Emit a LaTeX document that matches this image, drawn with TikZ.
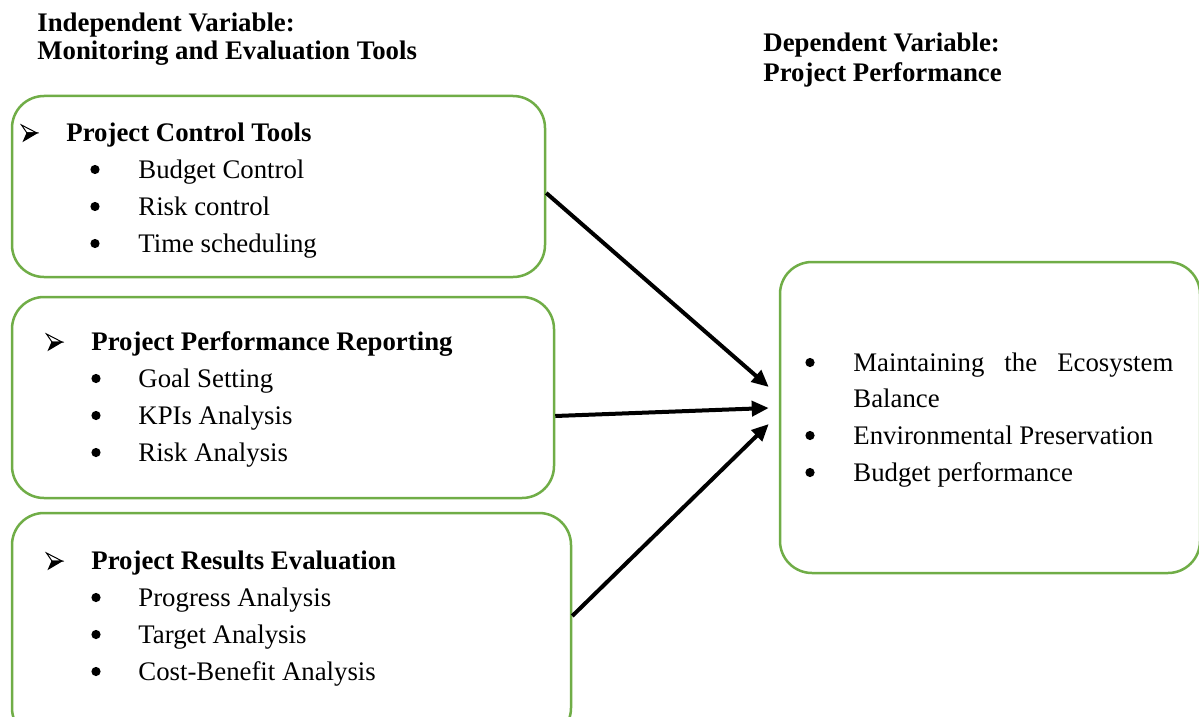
\documentclass[tikz,border=0pt]{standalone}
\usepackage{fontspec}
\setmainfont{Liberation Serif}
\usetikzlibrary{arrows.meta,fit,calc}
\definecolor{boxgreen}{HTML}{70AD47}
\begin{document}
\begin{tikzpicture}[x=0.5pt,y=-0.5pt,
  box/.style={draw=boxgreen,line width=1.25pt,rounded corners=16pt,inner sep=0pt},
  txt/.style={anchor=base west,inner sep=0pt,font=\fontsize{13.4}{16}\selectfont},
  hd/.style={txt,font=\fontsize{13.4}{16}\selectfont\bfseries},
  bul/.style={circle,fill=black,inner sep=0pt,minimum size=4.6pt},
  arr/.style={draw=black,line width=2pt,-{Triangle[length=8.5pt,width=7.5pt]}},
  ptrpic/.pic={
    \draw[line width=0.5pt,line join=miter,fill=white] (-7.5,-8) -- (8,0) -- (-2,0) -- cycle;
    \fill[black] (-2,0) -- (8,0) -- (-5.5,8) -- cycle;
    \draw[line width=0.5pt,line join=miter] (-2,0) -- (8,0) -- (-5.5,8) -- cycle;
  }]
\useasboundingbox (0,0) rectangle (1199,717);
\clip (0,0) rectangle (1199,717);
% titles
\node[hd] (ti1) at (37,32) {Independent Variable:};
\node[hd] (ti2) at (37,60) {Monitoring and Evaluation Tools};
\node[hd] (td1) at (763,52) {Dependent Variable:};
\node[hd] (td2) at (763,82) {Project Performance};
% boxes
\node[box,fit={(12,96)(545,277)}] (b1) {};
\node[box,fit={(12,297)(554,498)}] (b2) {};
\node[box,fit={(12,513)(571,740)}] (b3) {};
\node[box,fit={(780,262)(1200,573)}] (b4) {};
% box 1
\pic at (29,133) {ptrpic};
\node[hd] (h1) at (66,141) {Project Control Tools};
\node[bul] (u11) at (95,169.5) {};
\node[txt] (i11) at (138,178) {Budget Control};
\node[bul] (u12) at (95,206.5) {};
\node[txt] (i12) at (138,215) {Risk control};
\node[bul] (u13) at (95,243.5) {};
\node[txt] (i13) at (138,252) {Time scheduling};
% box 2
\pic at (54,342) {ptrpic};
\node[hd] (h2) at (91,350) {Project Performance Reporting};
\node[bul] (u21) at (96,378.5) {};
\node[txt] (i21) at (138,387) {Goal Setting};
\node[bul] (u22) at (96,415.5) {};
\node[txt] (i22) at (138,424) {KPIs Analysis};
\node[bul] (u23) at (96,452.5) {};
\node[txt] (i23) at (138,461) {Risk Analysis};
% box 3
\pic at (54,561) {ptrpic};
\node[hd] (h3) at (91,569) {Project Results Evaluation};
\node[bul] (u31) at (96,597.5) {};
\node[txt] (i31) at (138,606) {Progress Analysis};
\node[bul] (u32) at (96,634.5) {};
\node[txt] (i32) at (138,643) {Target Analysis};
\node[bul] (u33) at (96,671.5) {};
\node[txt] (i33) at (138,680) {Cost-Benefit Analysis};
% box 4
\node[bul] (u41) at (810,362.5) {};
\node[txt] (i41) at (853,371) {\makebox[160pt][s]{Maintaining the Ecosystem}};
\node[txt] (i42) at (853,407) {Balance};
\node[bul] (u43) at (810,435.5) {};
\node[txt] (i43) at (853,444) {Environmental Preservation};
\node[bul] (u44) at (810,472.5) {};
\node[txt] (i44) at (853,481) {Budget performance};
% arrows
\draw[arr] ([yshift=-3.25pt]b1.east) -- ([xshift=-5pt,yshift=15.25pt]b4.west);
\draw[arr] ([yshift=-9.25pt]b2.east) -- ([xshift=-5pt,yshift=4.75pt]b4.west);
\draw[arr] ([yshift=5.25pt]b3.east) -- ([xshift=-5pt,yshift=-3.25pt]b4.west);
\end{tikzpicture}
\end{document}
